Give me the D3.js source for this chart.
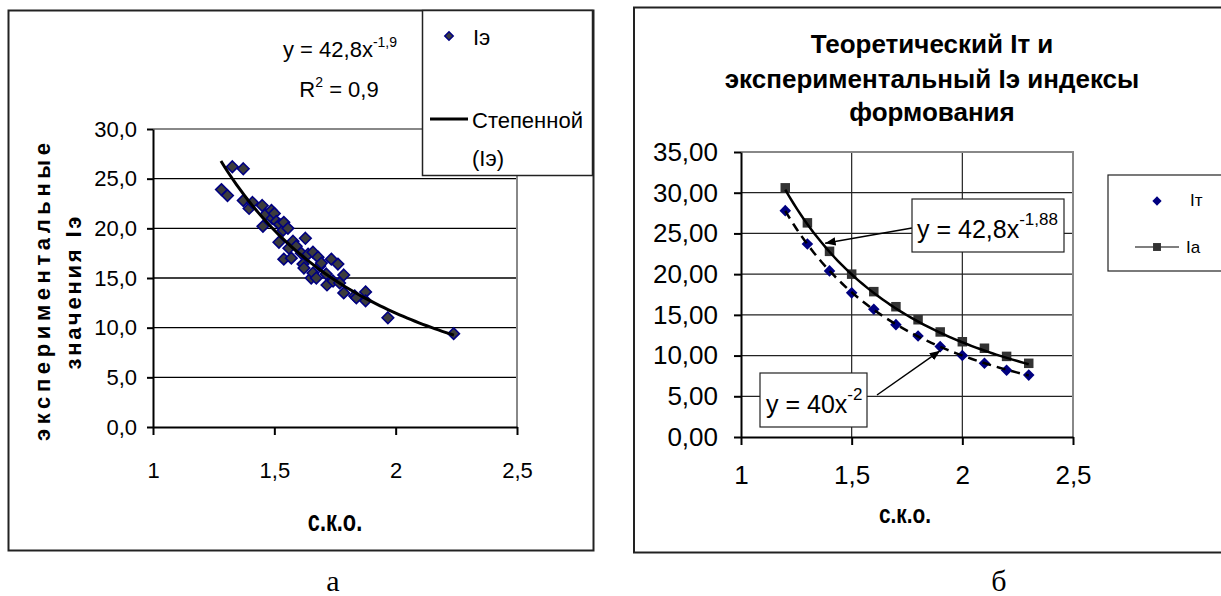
<!DOCTYPE html>
<meta charset="utf-8">
<head>
    <title>Индексы формования</title>
</head>
<style>
    body { margin: 0; background: #fff; }
    text { font-family: "Liberation Sans", Arial, sans-serif; fill: #000; }
    .tick line { stroke: #000; }
    .domain { stroke: #000; }
    .caption { font-family: "Liberation Serif", "Times New Roman", serif; }
</style>
<svg width="1221" height="596"></svg>
<script src="https://d3js.org/d3.v7.min.js"></script>
<script>

    // chart a: experimental points (с.к.о., Iэ)
    var expX = [1.282, 1.307, 1.327, 1.372, 1.372, 1.396, 1.41, 1.45, 1.453, 1.464, 1.488, 1.491, 1.50, 1.508,
        1.519, 1.522, 1.536, 1.539, 1.539, 1.556, 1.56, 1.57, 1.577, 1.59, 1.611, 1.618, 1.622, 1.628, 1.639,
        1.652, 1.659, 1.659, 1.673, 1.68, 1.687, 1.694, 1.714, 1.717, 1.735, 1.742, 1.762, 1.769, 1.786, 1.786,
        1.831, 1.838, 1.876, 1.876, 1.968, 2.239];
    var expY = [23.9, 23.3, 26.2, 26.0, 22.8, 22.0, 22.6, 22.3, 20.2, 21.4, 21.8, 21.0, 21.5, 20.7,
        18.6, 20.4, 19.8, 20.6, 16.9, 20.0, 18.0, 17.0, 18.7, 18.2, 17.5, 16.4, 16.0, 19.0, 17.4,
        15.0, 17.6, 15.5, 15.0, 17.1, 16.2, 16.5, 15.4, 14.3, 16.9, 14.7, 16.4, 14.5, 15.3, 13.5,
        13.2, 13.0, 13.6, 12.7, 11.0, 9.4];
    var expFit = [42.8, -1.9, 1.28, 2.24];   // a, b, from, to

    // chart б: theoretical It and Ia
    var sko = [1.2, 1.3, 1.4, 1.5, 1.6, 1.7, 1.8, 1.9, 2.0, 2.1, 2.2, 2.3];
    var itVals = [27.8, 23.7, 20.4, 17.7, 15.7, 13.8, 12.4, 11.1, 10.0, 9.05, 8.2, 7.6];
    var iaVals = [30.6, 26.3, 22.8, 20.0, 17.85, 16.0, 14.4, 12.9, 11.7, 10.9, 9.9, 9.05];
    var iaFit = [42.8, -1.88, 1.2, 2.3];
    var itFit = [40, -2, 1.2, 2.3];

    var xTicks = [1, 1.5, 2, 2.5];
    var yTicksA = [0, 5, 10, 15, 20, 25, 30];
    var yTicksB = [0, 5, 10, 15, 20, 25, 30, 35];

    var svg = d3.select("svg");
    svg.append("rect").attr("width", 1221).attr("height", 596).attr("fill", "#fff");

    var comma = function(f) { return function(d) { return d3.format(f)(d).replace(".", ","); }; };
    var fitPoints = function(p) {
        return d3.range(0, 61).map(function(i) {
            var x = p[2] + (p[3] - p[2]) * i / 60;
            return [x, p[0] * Math.pow(x, p[1])];
        });
    };
    var styleAxis = function(size) {
        return function(g) {
            g.selectAll("text").style("font-size", size + "px");
            g.select(".domain").attr("stroke-width", 2);
            g.selectAll(".tick line").attr("stroke-width", 2);
        };
    };
    var diamond = d3.symbol().type(d3.symbolDiamond2);
    var square = d3.symbol().type(d3.symbolSquare2);

    // ---------- chart a ----------
    svg.append("rect").attr("x", 8.5).attr("y", 10.5).attr("width", 585).attr("height", 540)
        .attr("fill", "none").attr("stroke", "#222").attr("stroke-width", 2);

    var xa = d3.scaleLinear().domain([1, 2.5]).range([153, 517]);
    var ya = d3.scaleLinear().domain([0, 30]).range([427, 129]);
    var ga = svg.append("g");

    ga.append("g").selectAll("line").data(yTicksA.slice(1)).enter().append("line")
        .attr("x1", xa(1)).attr("x2", xa(2.5))
        .attr("y1", ya).attr("y2", ya)
        .attr("stroke", function(d) { return d == 30 ? "#888" : "#000"; })
        .attr("stroke-width", function(d) { return d == 30 ? 2 : 1.3; });
    ga.append("line").attr("x1", xa(2.5)).attr("x2", xa(2.5)).attr("y1", ya(30)).attr("y2", ya(0))
        .attr("stroke", "#888").attr("stroke-width", 2);

    ga.append("g").attr("transform", "translate(0," + ya(0) + ")")
        .call(d3.axisBottom(xa).tickValues(xTicks).tickFormat(comma("")).tickSize(8).tickPadding(27).tickSizeOuter(0))
        .call(styleAxis(22));
    ga.append("g").attr("transform", "translate(" + xa(1) + ",0)")
        .call(d3.axisLeft(ya).tickValues(yTicksA).tickFormat(comma(".1f")).tickSize(6).tickPadding(10).tickSizeOuter(0))
        .call(styleAxis(22));

    ga.append("g").selectAll("path").data(expX).enter().append("path")
        .attr("d", diamond.size(85))
        .attr("transform", function(d, i) { return "translate(" + xa(d) + "," + ya(expY[i]) + ")"; })
        .attr("fill", "#3c3c3c").attr("stroke", "#000080").attr("stroke-width", 1.6);

    ga.append("path").datum(fitPoints(expFit))
        .attr("d", d3.line().x(function(d) { return xa(d[0]); }).y(function(d) { return ya(d[1]); }))
        .attr("fill", "none").attr("stroke", "#000").attr("stroke-width", 3);

    // axis titles a (spaced letters)
    var ta = ga.append("g").style("font-weight", "bold").style("font-size", "22px").attr("text-anchor", "middle");
    ta.append("text").attr("transform", "translate(50,292) rotate(-90)")
        .attr("textLength", 298).attr("lengthAdjust", "spacing").text("экспериментальные");
    ta.append("text").attr("transform", "translate(81,293) rotate(-90)")
        .attr("textLength", 153).attr("lengthAdjust", "spacing").text("значения Iэ");
    ga.append("text").attr("transform", "translate(335,531) scale(0.75,1)").attr("text-anchor", "middle")
        .style("font-weight", "bold").style("font-size", "29px").text("с.к.о.");

    // equation a
    var eq = ga.append("g").style("font-size", "22px").attr("text-anchor", "middle");
    var e1 = eq.append("text").attr("x", 340).attr("y", 57);
    e1.append("tspan").text("y = 42,8x");
    e1.append("tspan").attr("dy", -10).style("font-size", "14px").text("-1,9");
    var e2 = eq.append("text").attr("x", 339).attr("y", 97);
    e2.append("tspan").text("R");
    e2.append("tspan").attr("dy", -10).style("font-size", "14px").text("2");
    e2.append("tspan").attr("dy", 10).text(" = 0,9");

    // legend a
    var la = ga.append("g");
    la.append("rect").attr("x", 422.5).attr("y", 10.5).attr("width", 170).attr("height", 165)
        .attr("fill", "#fff").attr("stroke", "#222").attr("stroke-width", 1.5);
    la.append("path").attr("d", diamond.size(45)).attr("transform", "translate(449,36)")
        .attr("fill", "#3c3c3c").attr("stroke", "#000080").attr("stroke-width", 1.5);
    la.append("text").attr("x", 473).attr("y", 45).style("font-size", "22px").text("Iэ");
    la.append("line").attr("x1", 430).attr("x2", 468).attr("y1", 119).attr("y2", 119)
        .attr("stroke", "#000").attr("stroke-width", 3);
    la.append("text").attr("x", 472).attr("y", 128).style("font-size", "22px").text("Степенной");
    la.append("text").attr("x", 472).attr("y", 166).style("font-size", "22px").text("(Iэ)");

    // ---------- chart б ----------
    svg.append("rect").attr("x", 634).attr("y", 7.5).attr("width", 600).attr("height", 545)
        .attr("fill", "none").attr("stroke", "#222").attr("stroke-width", 2);

    var xb = d3.scaleLinear().domain([1, 2.5]).range([741, 1073]);
    var yb = d3.scaleLinear().domain([0, 35]).range([437, 152]);
    var gb = svg.append("g");

    gb.append("g").selectAll("line").data(yTicksB.slice(1, -1)).enter().append("line")
        .attr("x1", xb(1)).attr("x2", xb(2.5)).attr("y1", yb).attr("y2", yb)
        .attr("stroke", "#222").attr("stroke-width", 1.2);
    gb.append("g").selectAll("line").data([1.5, 2]).enter().append("line")
        .attr("x1", xb).attr("x2", xb).attr("y1", yb(35)).attr("y2", yb(0))
        .attr("stroke", "#222").attr("stroke-width", 1.2);
    gb.append("path").attr("d", "M" + xb(1) + "," + yb(35) + "H" + xb(2.5) + "V" + yb(0))
        .attr("fill", "none").attr("stroke", "#888").attr("stroke-width", 2);

    gb.append("g").attr("transform", "translate(0," + yb(0) + ")")
        .call(d3.axisBottom(xb).tickValues(xTicks).tickFormat(comma("")).tickSize(8).tickPadding(21).tickSizeOuter(0))
        .call(styleAxis(26));
    gb.append("g").attr("transform", "translate(" + xb(1) + ",0)")
        .call(d3.axisLeft(yb).tickValues(yTicksB).tickFormat(comma(".2f")).tickSize(7).tickPadding(16).tickSizeOuter(0))
        .call(styleAxis(26));

    var lineB = d3.line().x(function(d) { return xb(d[0]); }).y(function(d) { return yb(d[1]); });

    gb.append("g").selectAll("path").data(sko).enter().append("path")
        .attr("d", square.size(115))
        .attr("transform", function(d, i) { return "translate(" + xb(d) + "," + yb(iaVals[i]) + ")"; })
        .attr("fill", "#333");
    gb.append("g").selectAll("path").data(sko).enter().append("path")
        .attr("d", diamond.size(85))
        .attr("transform", function(d, i) { return "translate(" + xb(d) + "," + yb(itVals[i]) + ")"; })
        .attr("fill", "#000080");

    gb.append("path").datum(fitPoints(itFit)).attr("d", lineB)
        .attr("fill", "none").attr("stroke", "#000").attr("stroke-width", 2.5).attr("stroke-dasharray", "9,6");
    gb.append("path").datum(fitPoints(iaFit)).attr("d", lineB)
        .attr("fill", "none").attr("stroke", "#000").attr("stroke-width", 2.5);

    // title б
    var tb = gb.append("g").attr("text-anchor", "middle").style("font-weight", "bold").style("font-size", "26px");
    tb.append("text").attr("x", 932).attr("y", 53).text("Теоретический Iт и");
    tb.append("text").attr("x", 932).attr("y", 88).text("экспериментальный Iэ индексы");
    tb.append("text").attr("x", 932).attr("y", 121).text("формования");
    gb.append("text").attr("transform", "translate(905,523) scale(0.8,1)").attr("text-anchor", "middle")
        .style("font-weight", "bold").style("font-size", "26px").text("с.к.о.");

    // callouts б
    var arrow = svg.append("defs").append("marker").attr("id", "arr").attr("viewBox", "0 0 10 10")
        .attr("refX", 10).attr("refY", 5).attr("markerWidth", 7).attr("markerHeight", 7).attr("orient", "auto");
    arrow.append("path").attr("d", "M0,1L10,5L0,9z").attr("fill", "#000");

    gb.append("line").attr("x1", 912).attr("y1", 228).attr("x2", xb(1.38)).attr("y2", yb(23.8))
        .attr("stroke", "#000").attr("stroke-width", 1.5).attr("marker-end", "url(#arr)");
    gb.append("rect").attr("x", 912).attr("y", 199).attr("width", 152).attr("height", 53)
        .attr("fill", "#fff").attr("stroke", "#222").attr("stroke-width", 1.2);
    var c1 = gb.append("text").attr("x", 917).attr("y", 238).style("font-size", "25px");
    c1.append("tspan").text("y = 42,8x");
    c1.append("tspan").attr("dy", -13).style("font-size", "17px").text("-1,88");

    gb.append("line").attr("x1", 877).attr("y1", 395).attr("x2", xb(1.9)).attr("y2", yb(10.6))
        .attr("stroke", "#000").attr("stroke-width", 1.5).attr("marker-end", "url(#arr)");
    gb.append("rect").attr("x", 760).attr("y", 373).attr("width", 107).attr("height", 54)
        .attr("fill", "#fff").attr("stroke", "#222").attr("stroke-width", 1.2);
    var c2 = gb.append("text").attr("x", 766).attr("y", 413).style("font-size", "25px");
    c2.append("tspan").text("y = 40x");
    c2.append("tspan").attr("dy", -13).style("font-size", "17px").text("-2");

    // legend б
    var lb = gb.append("g");
    lb.append("rect").attr("x", 1108).attr("y", 175).attr("width", 130).attr("height", 96)
        .attr("fill", "#fff").attr("stroke", "#222").attr("stroke-width", 1.2);
    lb.append("path").attr("d", diamond.size(55)).attr("transform", "translate(1157,201)").attr("fill", "#000080");
    lb.append("text").attr("x", 1190).attr("y", 206).style("font-size", "17px").text("Iт");
    lb.append("line").attr("x1", 1135).attr("x2", 1179).attr("y1", 247).attr("y2", 247)
        .attr("stroke", "#000").attr("stroke-width", 1.2);
    lb.append("path").attr("d", square.size(80)).attr("transform", "translate(1157,247)").attr("fill", "#333");
    lb.append("text").attr("x", 1186).attr("y", 253).style("font-size", "17px").text("Ia");

    // panel captions
    svg.append("text").attr("class", "caption").attr("x", 333).attr("y", 591).attr("text-anchor", "middle")
        .style("font-size", "30px").text("а");
    svg.append("text").attr("class", "caption").attr("x", 999).attr("y", 591).attr("text-anchor", "middle")
        .style("font-size", "30px").text("б");

</script>
